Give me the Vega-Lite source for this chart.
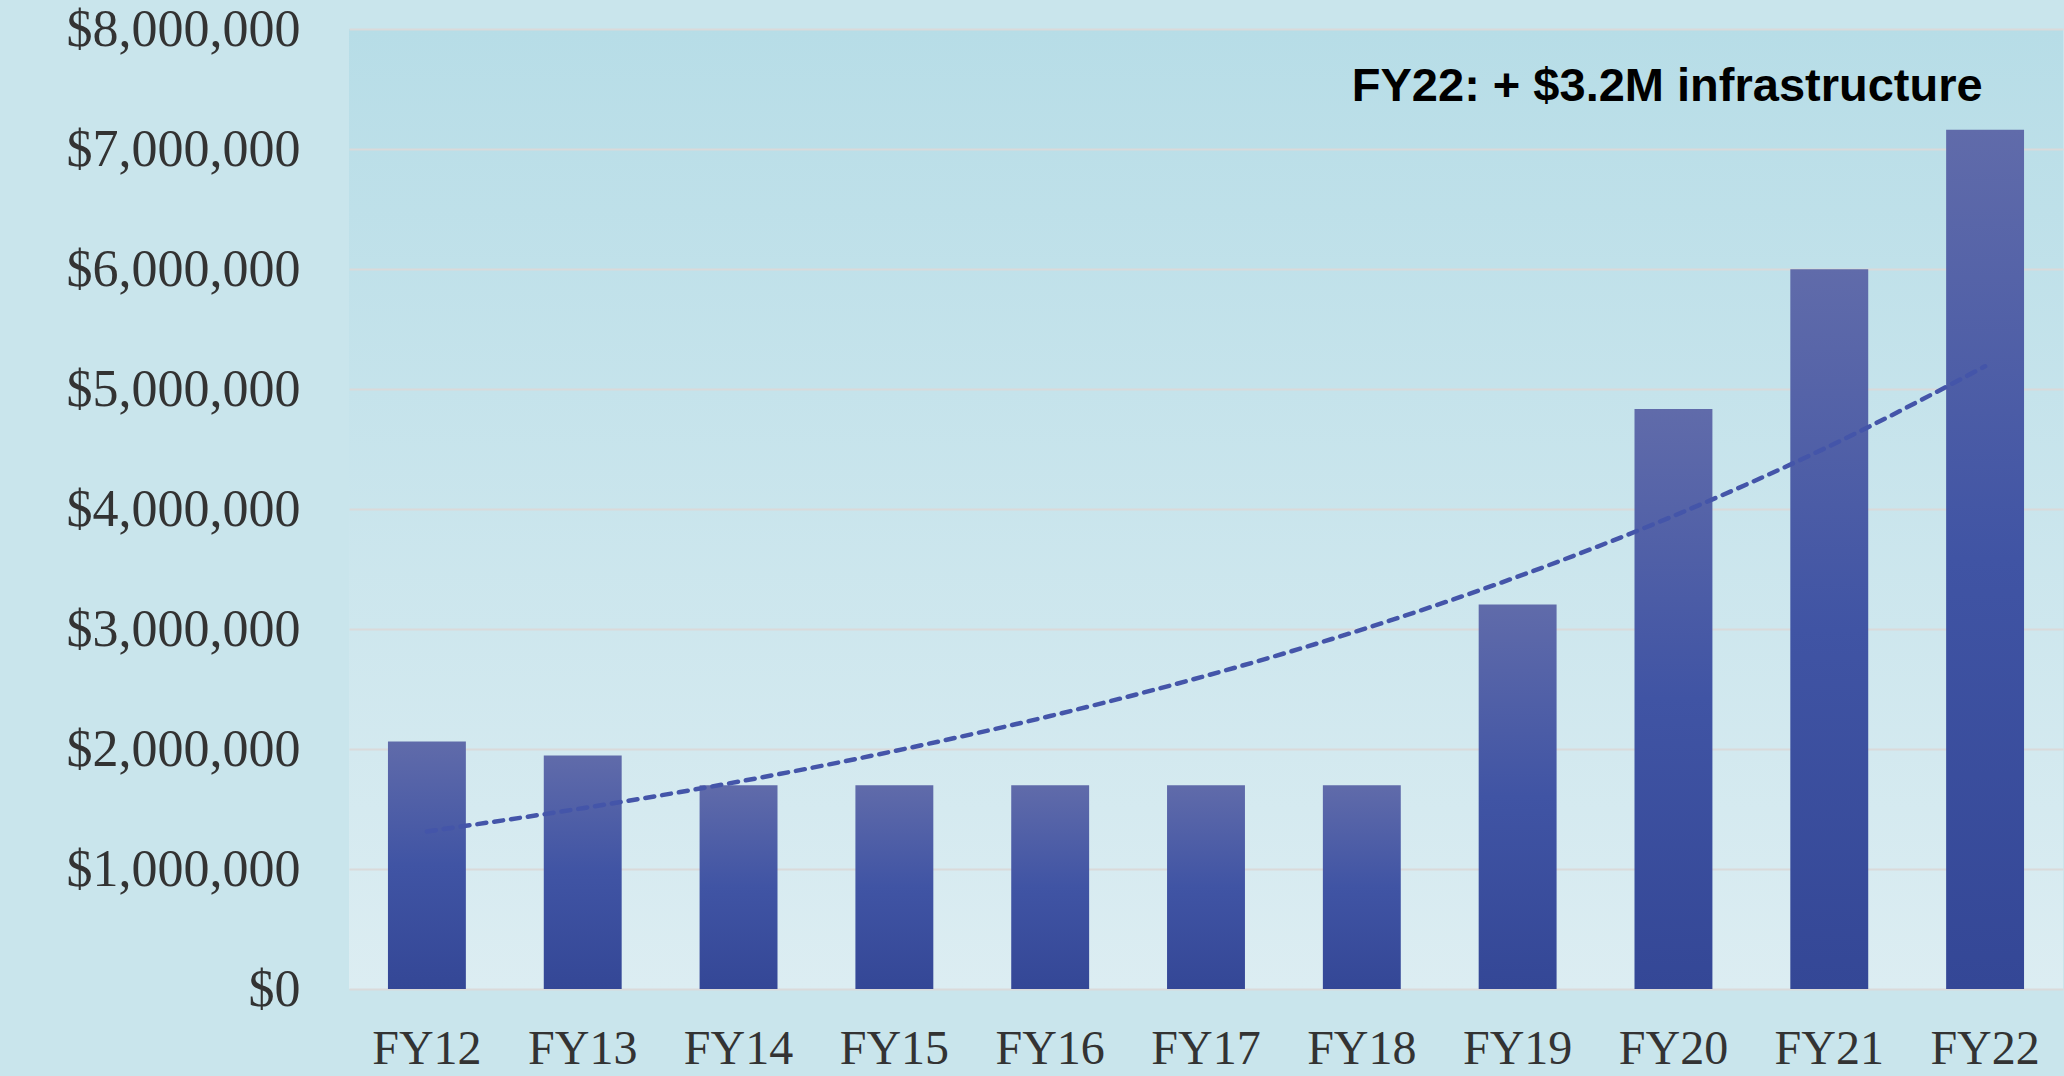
{
  "$schema": "https://vega.github.io/schema/vega-lite/v6.json",
  "width": 1714,
  "height": 960,
  "autosize": {"type": "none"},
  "padding": {"left": 349, "top": 29, "right": 1, "bottom": 87},
  "background": "#c9e5ec",
  "config": {
    "view": {
      "stroke": null,
      "fill": {
        "gradient": "linear",
        "x1": 0, "y1": 0, "x2": 0, "y2": 1,
        "stops": [
          {"offset": 0, "color": "#b7dde7"},
          {"offset": 1, "color": "#dcedf2"}
        ]
      }
    },
    "axis": {
      "domain": false,
      "ticks": false,
      "labelFont": "Liberation Serif",
      "labelFontSize": 52,
      "labelColor": "#333333",
      "labelLimit": 0,
      "title": null
    }
  },
  "data": {
    "values": [
      {"fy": "FY12", "amount": 2063000, "trend": 1313000},
      {"fy": "FY13", "amount": 1946000, "trend": 1507000},
      {"fy": "FY14", "amount": 1697000, "trend": 1728000},
      {"fy": "FY15", "amount": 1697000, "trend": 1983000},
      {"fy": "FY16", "amount": 1697000, "trend": 2275000},
      {"fy": "FY17", "amount": 1697000, "trend": 2610000},
      {"fy": "FY18", "amount": 1697000, "trend": 2995000},
      {"fy": "FY19", "amount": 3204000, "trend": 3436000},
      {"fy": "FY20", "amount": 4833000, "trend": 3942000},
      {"fy": "FY21", "amount": 5997000, "trend": 4523000},
      {"fy": "FY22", "amount": 7160000, "trend": 5189000}
    ]
  },
  "encoding": {
    "x": {
      "field": "fy",
      "type": "nominal",
      "sort": null,
      "scale": {"paddingInner": 0.5, "paddingOuter": 0.25},
      "axis": {"labelAngle": 0, "labelPadding": 36, "labelFontSize": 48, "grid": false}
    }
  },
  "layer": [
    {
      "mark": {
        "type": "bar",
        "fill": {
          "gradient": "linear",
          "x1": 0, "y1": 0, "x2": 0, "y2": 1,
          "stops": [
            {"offset": 0, "color": "#606baa"},
            {"offset": 0.5, "color": "#4054a4"},
            {"offset": 1, "color": "#344796"}
          ]
        }
      },
      "encoding": {
        "y": {
          "field": "amount",
          "type": "quantitative",
          "scale": {"domain": [0, 8000000], "nice": false},
          "axis": {
            "values": [0, 1000000, 2000000, 3000000, 4000000, 5000000, 6000000, 7000000, 8000000],
            "format": "$,.0f",
            "labelPadding": 49,
            "labelFontSize": 52,
            "grid": true,
            "gridColor": "#dadada",
            "gridWidth": 2
          }
        }
      }
    },
    {
      "mark": {
        "type": "line",
        "color": "#4455a9",
        "strokeWidth": 4.5,
        "strokeDash": [9, 8],
        "strokeCap": "round",
        "interpolate": "monotone"
      },
      "encoding": {
        "y": {"field": "trend", "type": "quantitative"}
      }
    },
    {
      "data": {"values": [{"fy": "FY20", "pos": 7404000, "label": "FY22: + $3.2M infrastructure"}]},
      "mark": {
        "type": "text",
        "font": "Liberation Sans",
        "fontWeight": "bold",
        "fontSize": 47,
        "color": "#000000",
        "align": "center",
        "baseline": "alphabetic"
      },
      "encoding": {
        "x": {"field": "fy", "type": "nominal", "bandPosition": 0.42},
        "y": {"field": "pos", "type": "quantitative"},
        "text": {"field": "label"}
      }
    }
  ]
}
